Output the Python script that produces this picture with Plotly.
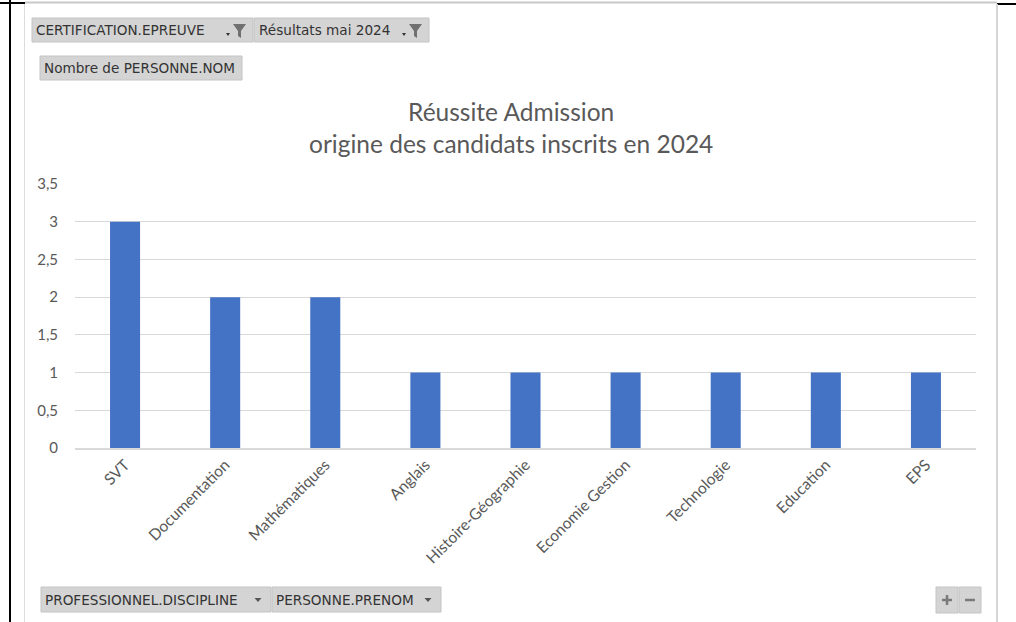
import plotly.graph_objects as go

categories = ["SVT", "Documentation", "Mathématiques", "Anglais", "Histoire-Géographie",
              "Economie Gestion", "Technologie", "Education", "EPS"]
values = [3, 2, 2, 1, 1, 1, 1, 1, 1]
title_lines = ["Réussite Admission", "origine des candidats inscrits en 2024"]
top_buttons = ["CERTIFICATION.EPREUVE", "Résultats mai 2024"]
value_button = "Nombre de PERSONNE.NOM"
bottom_buttons = ["PROFESSIONNEL.DISCIPLINE", "PERSONNE.PRENOM"]

W, H = 1016, 622
L, R, T, B = 75, 976, 184, 448  # plot area in pixels

def px(x):
    return (x - L) / (R - L)

def py(y):
    return (B - y) / (B - T)

TXT = "#595959"
FONT = "Lato"
BTNFONT = "DejaVu Sans"

fig = go.Figure(go.Bar(x=categories, y=values, marker_color="#4472C4", marker_line_width=0))

shapes = []
annotations = []

def rect(x0, y0, x1, y1, fill, line=None, lw=0):
    shapes.append(dict(type="rect", xref="paper", yref="paper",
                       x0=px(x0), x1=px(x1), y0=py(y1), y1=py(y0),
                       fillcolor=fill, line=dict(color=line or fill, width=lw), layer="above"))

def line(x0, y0, x1, y1, color, w):
    shapes.append(dict(type="line", xref="paper", yref="paper",
                       x0=px(x0), x1=px(x1), y0=py(y0), y1=py(y1),
                       line=dict(color=color, width=w), layer="above"))

def poly(pts, fill):
    d = "M " + " L ".join(f"{px(a):.5f},{py(b):.5f}" for a, b in pts) + " Z"
    shapes.append(dict(type="path", xref="paper", yref="paper", path=d,
                       fillcolor=fill, line=dict(width=0), layer="above"))

def text(x, y, s, size=13.6, color="#333333", font=BTNFONT, anchor="left"):
    annotations.append(dict(x=px(x), y=py(y), xref="paper", yref="paper", text=s,
                            showarrow=False, xanchor=anchor, yanchor="middle",
                            font=dict(size=size, color=color, family=font)))

# document table lines and chart area border
line(10, 0, 10, 622, "#000000", 2)
line(0, 3, 25, 3, "#000000", 2)
line(997, 4, 1016, 4, "#000000", 2)
line(25, 2.5, 997, 2.5, "#c8c8c8", 2)
line(24.5, 4, 24.5, 622, "#dcdcdc", 1)
line(997, 4, 997, 622, "#d6d6d6", 2)

BTN = "#d4d4d4"
BTN_EDGE = "#c4c4c4"

# top filter buttons
rect(32, 18, 253, 42, BTN, BTN_EDGE, 1)
rect(254, 18, 429, 42, BTN, BTN_EDGE, 1)
text(34, 30, top_buttons[0])
text(257, 30, top_buttons[1])
for fx in (233, 409):
    poly([(fx - 7, 33), (fx - 3, 33), (fx - 5, 36)], "#333333")
    poly([(fx, 24), (fx + 13, 24), (fx + 8, 31), (fx + 8, 38), (fx + 5, 36), (fx + 5, 31)], "#707070")

# value field button
rect(40, 56, 242, 80, BTN, BTN_EDGE, 1)
text(42, 68, value_button)

# bottom axis field buttons
rect(41, 587, 271, 612, BTN, BTN_EDGE, 1)
rect(272, 587, 441, 612, BTN, BTN_EDGE, 1)
text(43, 599.5, bottom_buttons[0])
text(274, 599.5, bottom_buttons[1])
for ax in (258, 428):
    poly([(ax - 3.5, 598), (ax + 3.5, 598), (ax, 602)], "#555555")

# +/- buttons
rect(936, 587, 958, 613, BTN, BTN_EDGE, 1)
rect(959, 587, 981, 613, BTN, BTN_EDGE, 1)
line(942, 600, 952, 600, "#7a7a7a", 2.5)
line(947, 595, 947, 605, "#7a7a7a", 2.5)
line(965, 600, 975, 600, "#7a7a7a", 2.5)

# title
annotations.append(dict(x=px(510.5), y=py(127.5), xref="paper", yref="paper",
                        text="<br>".join(title_lines), showarrow=False,
                        xanchor="center", yanchor="middle",
                        font=dict(size=24.5, color=TXT, family=FONT)))

fig.update_layout(
    width=W, height=H,
    margin=dict(l=L, r=W - R, t=T, b=H - B, pad=0),
    paper_bgcolor="white", plot_bgcolor="white",
    separators=", ",
    showlegend=False,
    bargap=0.7,
    shapes=shapes,
    annotations=annotations,
    xaxis=dict(tickangle=-45, tickfont=dict(size=15.6, color=TXT, family=FONT),
               showline=True, linecolor="#d9d9d9", linewidth=1.5,
               showgrid=False, ticks="", fixedrange=True),
    yaxis=dict(range=[0, 3.5], dtick=0.5, tick0=0,
               tickfont=dict(size=15, color=TXT, family=FONT),
               showgrid=True, gridcolor="#d9d9d9", gridwidth=1,
               zeroline=False, showline=False, ticks="",
               ticklabelstandoff=16, fixedrange=True),
)

fig.write_html("out.html", config={"displayModeBar": False},
               post_script="document.body.style.margin='0';document.body.style.overflow='hidden';")
